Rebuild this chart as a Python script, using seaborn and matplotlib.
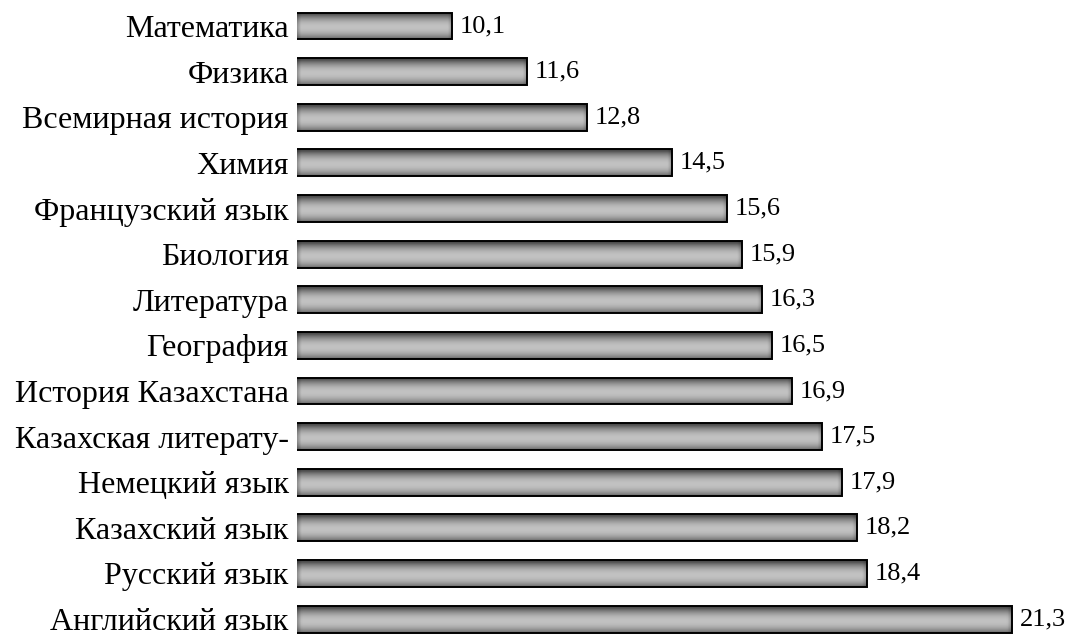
import matplotlib
matplotlib.use("Agg")
import matplotlib.pyplot as plt
import seaborn as sns
import pandas as pd
import numpy as np

subjects = ["Математика", "Физика", "Всемирная история", "Химия", "Французский язык",
            "Биология", "Литература", "География", "История Казахстана",
            "Казахская литерату-", "Немецкий язык", "Казахский язык", "Русский язык",
            "Английский язык"]
values = [10.1, 11.6, 12.8, 14.5, 15.6, 15.9, 16.3, 16.5, 16.9, 17.5, 17.9, 18.2, 18.4, 21.3]

sns.set_theme(style="white")
plt.rcParams['font.family'] = ['Liberation Serif', 'DejaVu Serif']

df = pd.DataFrame({'subject': subjects, 'value': values})

fig = plt.figure(figsize=(10.65, 6.36), dpi=100)
ax = fig.add_axes([297 / 1065, 0, 768 / 1065, 1])

sns.barplot(data=df, y='subject', x='value', orient='h', width=0.59,
            color='#b0b0b0', edgecolor='black', linewidth=1.4, ax=ax)

x0 = 7.0
ax.set_xlim(x0, x0 + 768 / 50.0)
ax.set_ylim(13.37, -0.57)

# градиент "цилиндр": темно сверху/снизу, светло в середине
prof = np.linspace(-1, 1, 64) - 0.12
grad = 0.30 + 0.46 * np.clip(1 - prof ** 2, 0, 1)
for bar in ax.patches:
    x, y = bar.get_x(), bar.get_y()
    w, h = bar.get_width(), bar.get_height()
    bx0 = max(x, x0)
    # слегка темнее у торцов (~4 px)
    n = 400
    hx = np.linspace(bx0, x + w, n)
    edge = 0.08
    hmask = 1 - 0.25 * np.clip(1 - (hx - bx0) / edge, 0, 1) - 0.2 * np.clip(1 - (x + w - hx) / edge, 0, 1)
    img = grad[:, None] * hmask[None, :]
    im = ax.imshow(img, cmap='gray', vmin=0, vmax=1, aspect='auto',
                   extent=[bx0, x + w, y + h, y], zorder=bar.get_zorder() + 0.1,
                   interpolation='bilinear')
    im.set_clip_path(bar)
    bar.set_facecolor('none')
    bar.set_zorder(bar.get_zorder() + 0.2)

for i, v in enumerate(values):
    ax.text(v + 0.15, i, f"{v:.1f}".replace('.', ','), va='center', ha='left',
            fontsize=19, color='black')

ax.set_xlabel('')
ax.set_ylabel('')
ax.set_xticks([])
ax.tick_params(axis='y', length=0, pad=6, labelsize=23, labelcolor='black')
for s in ax.spines.values():
    s.set_visible(False)

fig.savefig('out.png', dpi=100)
